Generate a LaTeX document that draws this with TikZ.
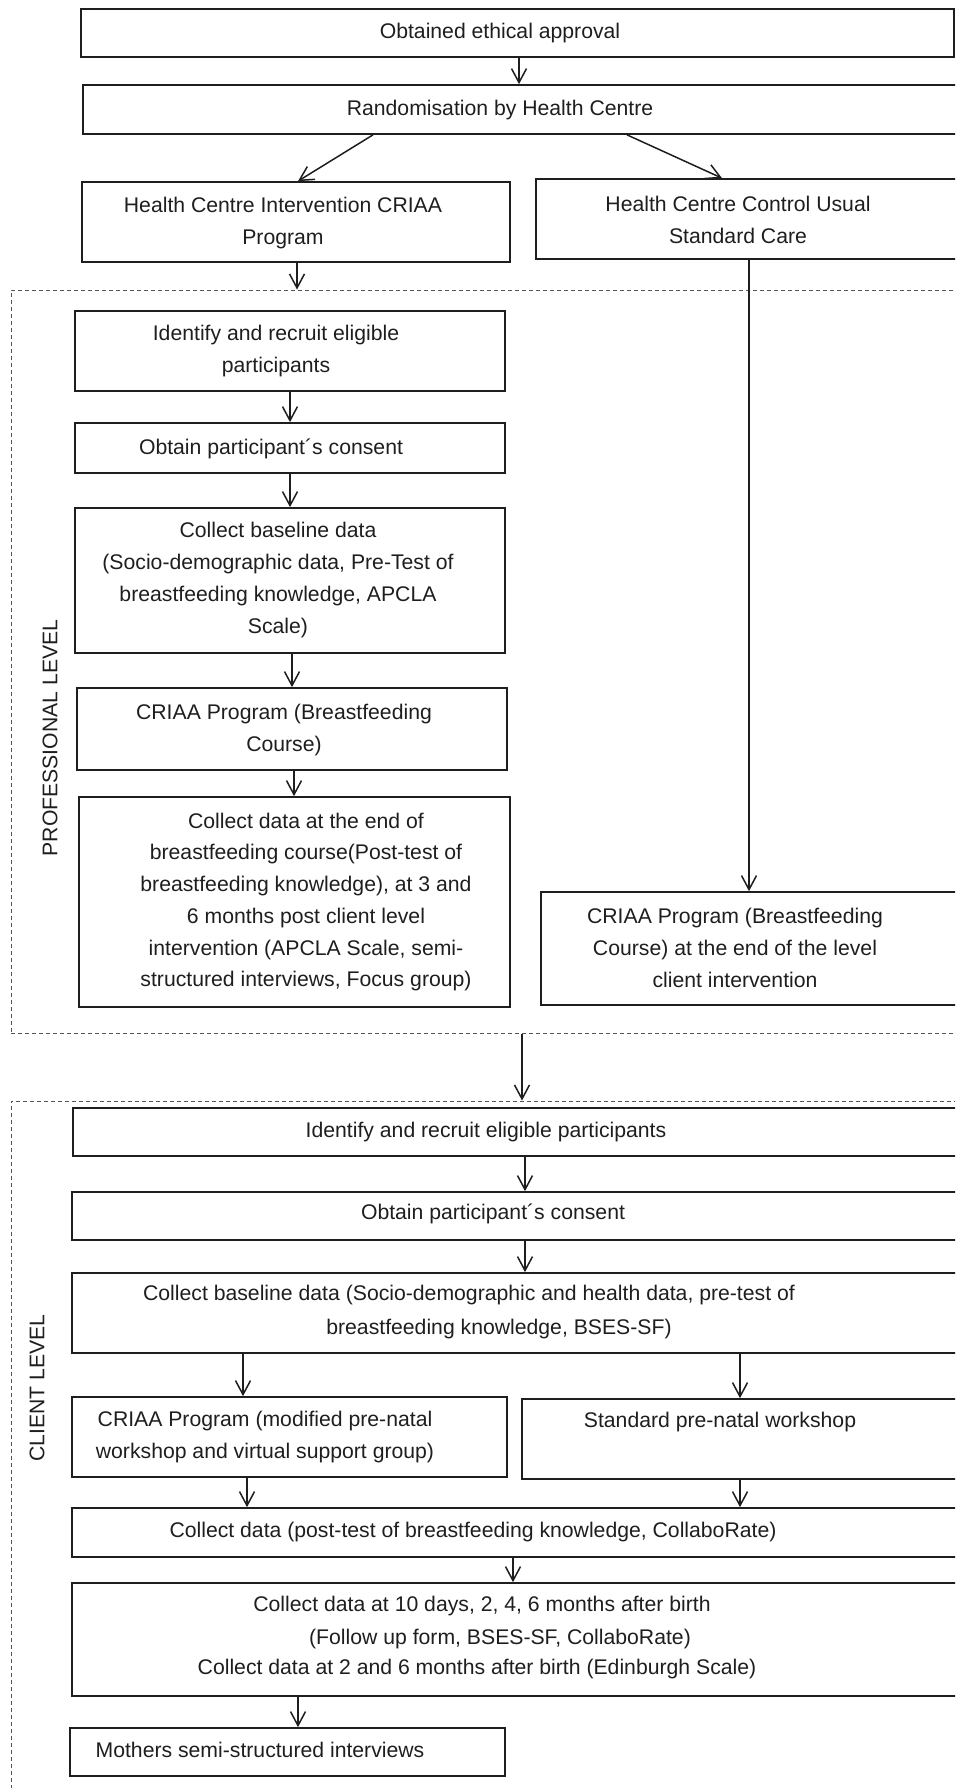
\documentclass[tikz,border=0pt]{standalone}
\usepackage{fontspec}
\setmainfont{Liberation Sans}
\usetikzlibrary{arrows.meta,fit}
\definecolor{ink}{HTML}{1E1E1E}
\definecolor{dashc}{HTML}{555555}
\begin{document}
\begin{tikzpicture}[x=0.5pt,y=-0.5pt,
  box/.style={draw=ink, line width=0.85pt, inner sep=0pt},
  dbox/.style={draw=dashc, line width=0.5pt, dash pattern=on 2pt off 1.5pt, inner sep=0pt},
  txt/.style={align=center, inner sep=0pt, text=ink, font=\fontsize{10.6pt}{15.85pt}\selectfont},
  lbl/.style={inner sep=0pt, text=ink, font=\fontsize{10.6pt}{12pt}\selectfont, rotate=90},
  arr/.style={draw=ink, line width=0.75pt, -{Straight Barb[length=7pt,width=7.5pt]}}]
\useasboundingbox (0,0) rectangle (955,1788);
\clip (0,0) rectangle (955,1788);

% top
\node[box, fit={(81,9)(954,57)}] (b1) {};
\node[txt] (t1) at (500,33) {Obtained ethical approval};
\node[box, fit={(83,85)(962,134)}] (b2) {};
\node[txt] (t2) at (500,110) {Randomisation by Health Centre};
\node[box, fit={(82,182)(510,262)}] (b3) {};
\node[txt] (t3) at (283,223) {Health Centre Intervention CRIAA\\Program};
\node[box, fit={(536,179)(962,259)}] (b4) {};
\node[txt] (t4) at (738,220) {Health Centre Control Usual\\Standard Care};

% professional level
\node[dbox, fit={(11,290)(975,1033)}] (prof) {};
\node[lbl] (lp) at (50,738) {PROFESSIONAL LEVEL};
\node[box, fit={(75,311)(505,391)}] (p1) {};
\node[txt] (tp1) at (276,351) {Identify and recruit eligible\\participants};
\node[box, fit={(75,423)(505,473)}] (p2) {};
\node[txt] (tp2) at (271,449) {Obtain participant´s consent};
\node[box, fit={(75,508)(505,653)}] (p3) {};
\node[txt] (tp3) at (278,580) {Collect baseline data\\(Socio-demographic data, Pre-Test of\\breastfeeding knowledge, APCLA\\Scale)};
\node[box, fit={(77,688)(507,770)}] (p4) {};
\node[txt] (tp4) at (284,730) {CRIAA Program (Breastfeeding\\Course)};
\node[box, fit={(79,797)(510,1007)}] (p5) {};
\node[txt] (tp5) at (306,902) {Collect data at the end of\\breastfeeding course(Post-test of\\breastfeeding knowledge), at 3 and\\6 months post client level\\intervention (APCLA Scale, semi-\\structured interviews, Focus group)};
\node[box, fit={(541,892)(962,1005)}] (r1) {};
\node[txt] (tr1) at (735,948) {CRIAA Program (Breastfeeding\\Course) at the end of the level\\client intervention};

% client level
\node[dbox, fit={(11,1101)(975,1800)}] (cli) {};
\node[lbl] (lc) at (37,1388) {CLIENT LEVEL};
\node[box, fit={(73,1108)(962,1156)}] (c1) {};
\node[txt] (tc1) at (486,1132) {Identify and recruit eligible participants};
\node[box, fit={(72,1192)(962,1240)}] (c2) {};
\node[txt] (tc2) at (493,1214) {Obtain participant´s consent};
\node[box, fit={(72,1273)(962,1353)}] (c3) {};
\node[txt] (tc3a) at (469,1295) {Collect baseline data (Socio-demographic and health data, pre-test of};
\node[txt] (tc3b) at (499,1329) {breastfeeding knowledge, BSES-SF)};
\node[box, fit={(72,1397)(507,1477)}] (c4) {};
\node[txt] (tc4) at (265,1437) {CRIAA Program (modified pre-natal\\workshop and virtual support group)};
\node[box, fit={(522,1399)(962,1479)}] (c5) {};
\node[txt] (tc5) at (720,1422) {Standard pre-natal workshop};
\node[box, fit={(72,1508)(962,1557)}] (c6) {};
\node[txt] (tc6) at (473,1532) {Collect data (post-test of breastfeeding knowledge, CollaboRate)};
\node[box, fit={(72,1583)(962,1696)}] (c7) {};
\node[txt] (tc7a) at (482,1606) {Collect data at 10 days, 2, 4, 6 months after birth};
\node[txt] (tc7b) at (500,1639) {(Follow up form, BSES-SF, CollaboRate)};
\node[txt] (tc7c) at (477,1669) {Collect data at 2 and 6 months after birth (Edinburgh Scale)};
\node[box, fit={(70,1728)(505,1776)}] (c8) {};
\node[txt] (tc8) at (260,1750) {Mothers semi-structured interviews};

% connectors
\draw[arr] (519,0 |- b1.south) -- (519,0 |- b2.north);
\draw[arr] (373,0 |- b2.south) -- (298,0 |- b3.north);
\draw[arr] (627,0 |- b2.south) -- (722,0 |- b4.north);
\draw[arr] (297,0 |- b3.south) -- (297,0 |- prof.north);
\draw[arr] (749,0 |- b4.south) -- (749,0 |- r1.north);
\draw[arr] (290,0 |- p1.south) -- (290,0 |- p2.north);
\draw[arr] (290,0 |- p2.south) -- (290,0 |- p3.north);
\draw[arr] (292,0 |- p3.south) -- (292,0 |- p4.north);
\draw[arr] (294,0 |- p4.south) -- (294,0 |- p5.north);
\draw[arr] (522,0 |- prof.south) -- (522,0 |- cli.north);
\draw[arr] (525,0 |- c1.south) -- (525,0 |- c2.north);
\draw[arr] (525,0 |- c2.south) -- (525,0 |- c3.north);
\draw[arr] (243,0 |- c3.south) -- (243,0 |- c4.north);
\draw[arr] (740,0 |- c3.south) -- (740,0 |- c5.north);
\draw[arr] (247,0 |- c4.south) -- (247,0 |- c6.north);
\draw[arr] (740,0 |- c5.south) -- (740,0 |- c6.north);
\draw[arr] (513,0 |- c6.south) -- (513,0 |- c7.north);
\draw[arr] (298,0 |- c7.south) -- (298,0 |- c8.north);
\end{tikzpicture}
\end{document}
